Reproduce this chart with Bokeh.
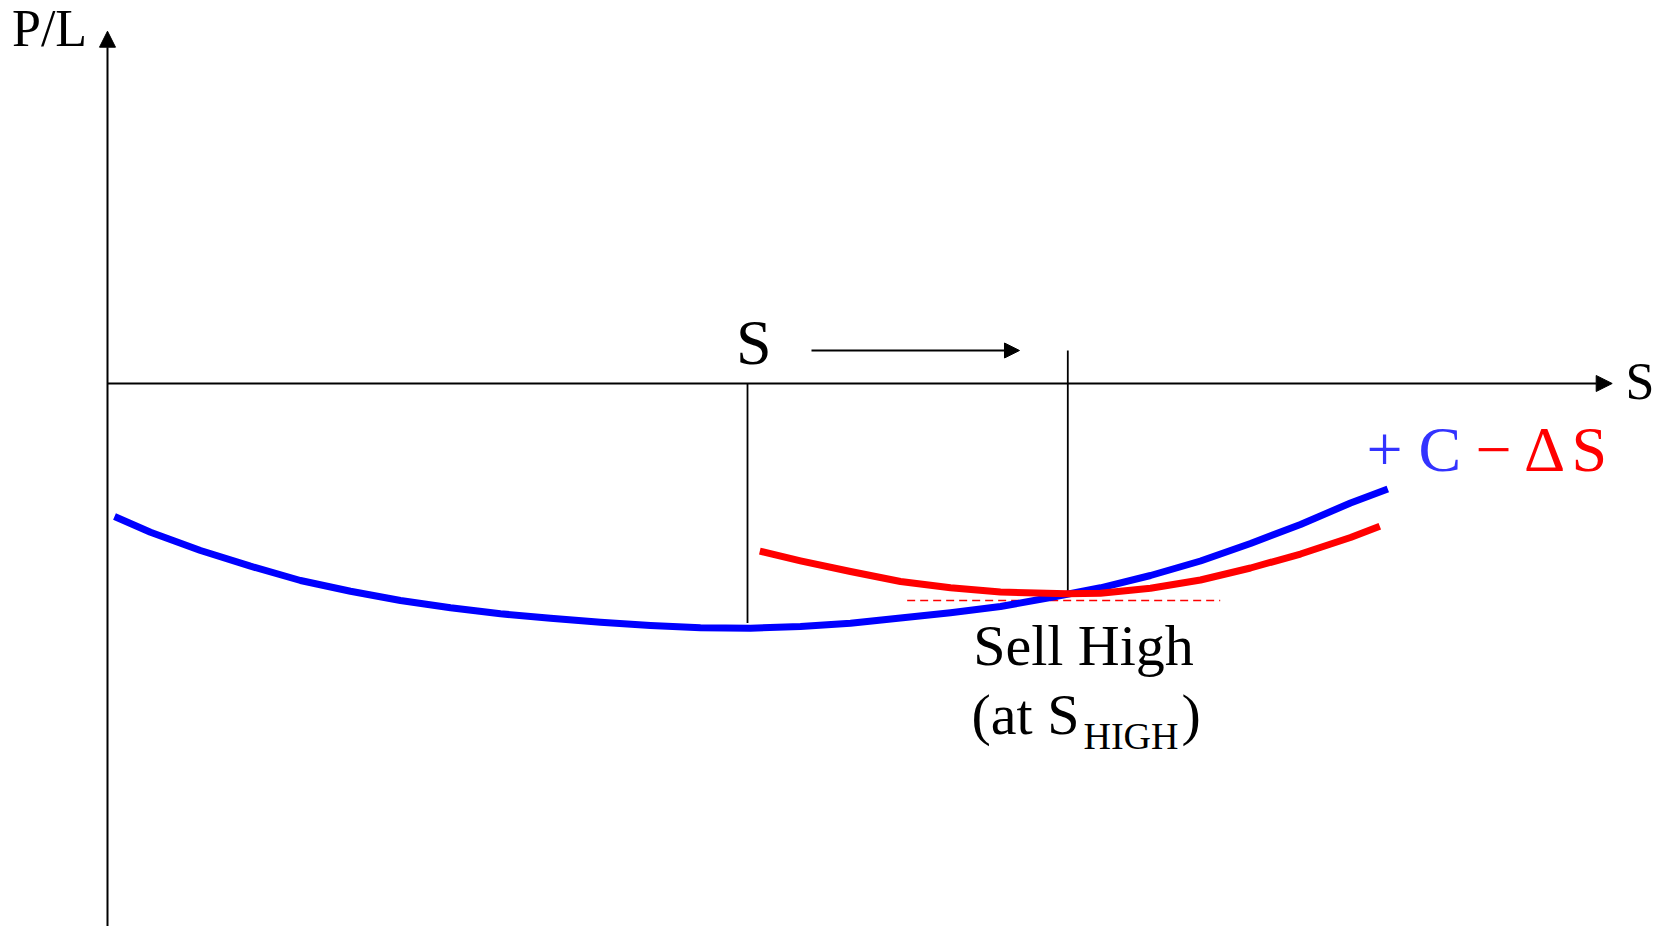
from bokeh.plotting import figure
from bokeh.models import Range1d, Arrow, NormalHead
from bokeh.core.properties import value
from bokeh.embed import file_html
from bokeh.resources import INLINE

# ---- data (S on x, P/L on y; arbitrary units) ----
blue_s = [0.467, 2.867, 6.2, 9.533, 12.867, 16.2, 19.533, 22.867, 26.2, 29.533, 32.867,
          36.2, 39.533, 42.867, 46.2, 49.533, 52.867, 56.2, 59.533, 62.867, 66.2,
          69.533, 72.867, 76.2, 79.533, 82.867, 85.353]
blue_pl = [-8.867, -9.913, -11.133, -12.18, -13.133, -13.847, -14.467, -14.953, -15.353,
           -15.647, -15.913, -16.133, -16.287, -16.313, -16.2, -15.98, -15.633, -15.287,
           -14.867, -14.267, -13.62, -12.8, -11.833, -10.667, -9.4, -7.967, -7.033]

red_s = [43.487, 46.2, 49.533, 52.867, 56.2, 59.533, 63.98, 66.2, 69.533, 72.867,
         76.2, 79.533, 82.867, 84.82]
red_pl = [-11.18, -11.82, -12.533, -13.2, -13.62, -13.9, -14.02, -13.98, -13.653,
          -13.1, -12.3, -11.367, -10.267, -9.513]

s_start = 42.667         # initial S
s_high = 64.02           # S_HIGH
pl_s_start = -15.967
pl_s_high = -13.933
sell_level_s = [53.311, 74.18]
sell_level_pl = [-14.467, -14.467]

move_arrow_s = [46.933, 60.8]
move_arrow_pl = 2.2

axis_x_end = 100.313
axis_y_end = 23.487
axis_y_bottom = -40.0

FONT = value("Liberation Serif")
BLUE_TXT = "#3333FF"
RED = "#FF0000"

W, H = 1668, 926
p = figure(width=W, height=H, output_backend="svg", toolbar_location=None,
           x_range=Range1d(-7.1333, 104.0667), y_range=Range1d(-36.2, 25.5333),
           x_axis_type=None, y_axis_type=None, min_border=0,
           outline_line_color=None, background_fill_color="white")
p.xgrid.visible = False
p.ygrid.visible = False

# axes with arrows
p.add_layout(Arrow(end=NormalHead(size=16, fill_color="black", line_color="black", line_width=1),
                   x_start=0, y_start=0, x_end=axis_x_end, y_end=0,
                   line_color="black", line_width=2))
p.add_layout(Arrow(end=NormalHead(size=16, fill_color="black", line_color="black", line_width=1),
                   x_start=0, y_start=axis_y_bottom, x_end=0, y_end=axis_y_end,
                   line_color="black", line_width=2))
# movement arrow
p.add_layout(Arrow(end=NormalHead(size=15, fill_color="black", line_color="black", line_width=1),
                   x_start=move_arrow_s[0], y_start=move_arrow_pl,
                   x_end=move_arrow_s[1], y_end=move_arrow_pl,
                   line_color="black", line_width=2))

# vertical markers
p.segment(x0=[s_start], y0=[0], x1=[s_start], y1=[pl_s_start], line_color="black", line_width=1.8)
p.segment(x0=[s_high], y0=[move_arrow_pl], x1=[s_high], y1=[pl_s_high], line_color="black", line_width=1.8)

# dashed level
p.line(sell_level_s, sell_level_pl, line_color=RED, line_width=1.5, line_dash="8 5")

# curves
p.line(blue_s, blue_pl, line_color="#0000FF", line_width=7, line_join="round")
p.line(red_s, red_pl, line_color=RED, line_width=7, line_join="round")

# texts
def txt(x, y, t, size, color="black", align="left"):
    p.text(x=[x], y=[y], text=[t], text_font=FONT, text_font_size=value(size),
           text_color=color, text_align=align, text_baseline="alphabetic")

txt(-6.367, 23.668, "P/L", "52px")
txt(101.2, 0.115, "S", "52px")
txt(41.9, 2.736, "S", "64px")
txt(83.933, -4.397, "+ C", "64px", BLUE_TXT)
txt(91.2, -4.397, "\u2212 \u0394", "64px", RED)
txt(97.6, -4.397, "S", "64px", RED)
txt(65.067, -17.475, "Sell High", "58px", align="center")
txt(57.6, -22.075, "(at S", "58px")
txt(65.067, -23.508, "HIGH", "38px")
txt(71.6, -22.075, ")", "58px")

open("out.html", "w").write(file_html(p, INLINE))
